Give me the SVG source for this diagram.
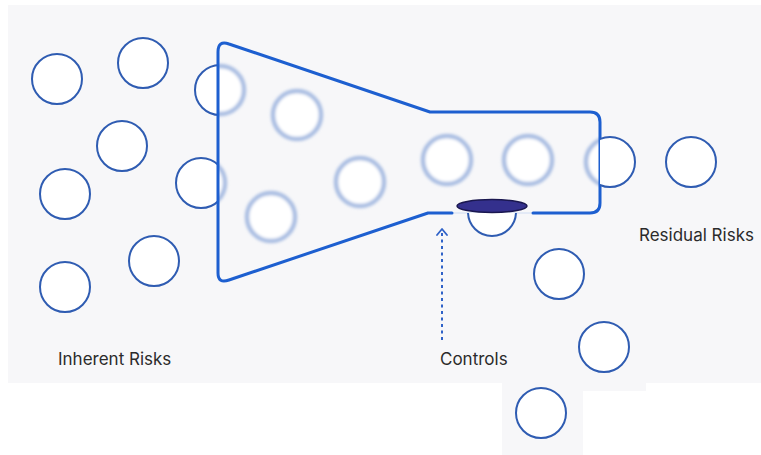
<svg xmlns="http://www.w3.org/2000/svg" width="761" height="455" viewBox="0 0 761 455">
  <style>
    .risk { fill: #ffffff; stroke: #2f5cb2; stroke-width: 2; }
    .ghost { fill: #ffffff; stroke: #a9bde2; stroke-width: 4.5; }
    .label { font-family: Inter, "Liberation Sans", sans-serif; font-size: 17px; fill: #2b2b2b; }
    .funnel { fill: none; stroke: #1d5fd0; stroke-width: 3; stroke-linejoin: round; stroke-linecap: round; }
  </style>
  <defs>
    <clipPath id="inside">
      <polygon points="218,42 430,112 600,112 600,213 428,213 218,283"/>
    </clipPath>
    <mask id="outside">
      <rect x="0" y="0" width="761" height="455" fill="#fff"/>
      <polygon points="218,42 430,112 600,112 600,213 428,213 218,283" fill="#000"/>
    </mask>
    <clipPath id="below">
      <rect x="440" y="213" width="110" height="40"/>
    </clipPath>
    <filter id="soft" x="-20%" y="-20%" width="140%" height="140%">
      <feGaussianBlur stdDeviation="1.6"/>
    </filter>
    <marker id="chevron" viewBox="0 0 10 12" refX="8" refY="6" markerWidth="10" markerHeight="12" markerUnits="userSpaceOnUse" orient="auto">
      <path d="M2,1 L8,6 L2,11" fill="none" stroke="#2f62c8" stroke-width="1.8" stroke-linecap="round" stroke-linejoin="round"/>
    </marker>
  </defs>

  <!-- backdrop panels -->
  <rect x="8" y="5" width="753" height="378" fill="#f7f7f9"/>
  <rect x="502" y="383" width="144" height="8" fill="#f7f7f9"/>
  <rect x="502" y="391" width="81" height="64" fill="#f7f7f9"/>

  <!-- risks waiting to enter -->
  <g id="inherent-risks">
    <circle class="risk" cx="57" cy="79" r="25"/>
    <circle class="risk" cx="143" cy="63" r="25"/>
    <circle class="risk" cx="122" cy="146" r="25"/>
    <circle class="risk" cx="65" cy="194" r="25"/>
    <circle class="risk" cx="154" cy="261" r="25"/>
    <circle class="risk" cx="65" cy="287" r="25"/>
    <g mask="url(#outside)">
      <circle class="risk" cx="220" cy="90" r="25"/>
      <circle class="risk" cx="201" cy="183" r="25"/>
    </g>
  </g>

  <!-- risks passing through the funnel (softened) -->
  <g id="filtered-risks" clip-path="url(#inside)">
    <g filter="url(#soft)">
      <circle class="ghost" cx="220" cy="90" r="24"/>
      <circle class="ghost" cx="201" cy="183" r="24"/>
      <circle class="ghost" cx="297" cy="115" r="24"/>
      <circle class="ghost" cx="360" cy="182" r="24"/>
      <circle class="ghost" cx="271" cy="217" r="24"/>
      <circle class="ghost" cx="447" cy="160" r="24"/>
      <circle class="ghost" cx="528" cy="160" r="24"/>
      <circle class="ghost" cx="610" cy="162" r="24"/>
    </g>
  </g>

  <!-- funnel -->
  <g id="funnel">
    <line x1="452" y1="213" x2="533" y2="213" stroke="#cfdcf3" stroke-width="1"/>
    <path class="funnel" d="M452,213 L428,213 L229,280 Q218,284 218,273 L218,52 Q218,40 229,44 L430,112 L590,112 Q600,112 600,122 L600,203 Q600,213 590,213 L533,213"/>
  </g>

  <!-- risks leaving the funnel -->
  <g id="residual-risks">
    <g mask="url(#outside)">
      <circle class="risk" cx="610" cy="162" r="25"/>
    </g>
    <circle class="risk" cx="691" cy="162" r="25"/>
    <circle class="risk" cx="492" cy="212" r="24" clip-path="url(#below)"/>
    <circle class="risk" cx="559" cy="274" r="25"/>
    <circle class="risk" cx="604" cy="347" r="25"/>
    <circle class="risk" cx="541" cy="413" r="25"/>
  </g>

  <!-- control plug -->
  <g id="control">
    <ellipse cx="492" cy="206" rx="35" ry="6.5" fill="#34308d" stroke="#1a174f" stroke-width="1.5"/>
  </g>

  <g id="connectors">
    <line x1="442" y1="340" x2="442" y2="229" stroke="#2f62c8" stroke-width="2" stroke-dasharray="3 3.5" marker-end="url(#chevron)"/>
  </g>

  <g id="labels">
    <text class="label" x="58" y="365">Inherent Risks</text>
    <text class="label" x="440" y="365">Controls</text>
    <text class="label" x="639" y="241">Residual Risks</text>
  </g>
</svg>
